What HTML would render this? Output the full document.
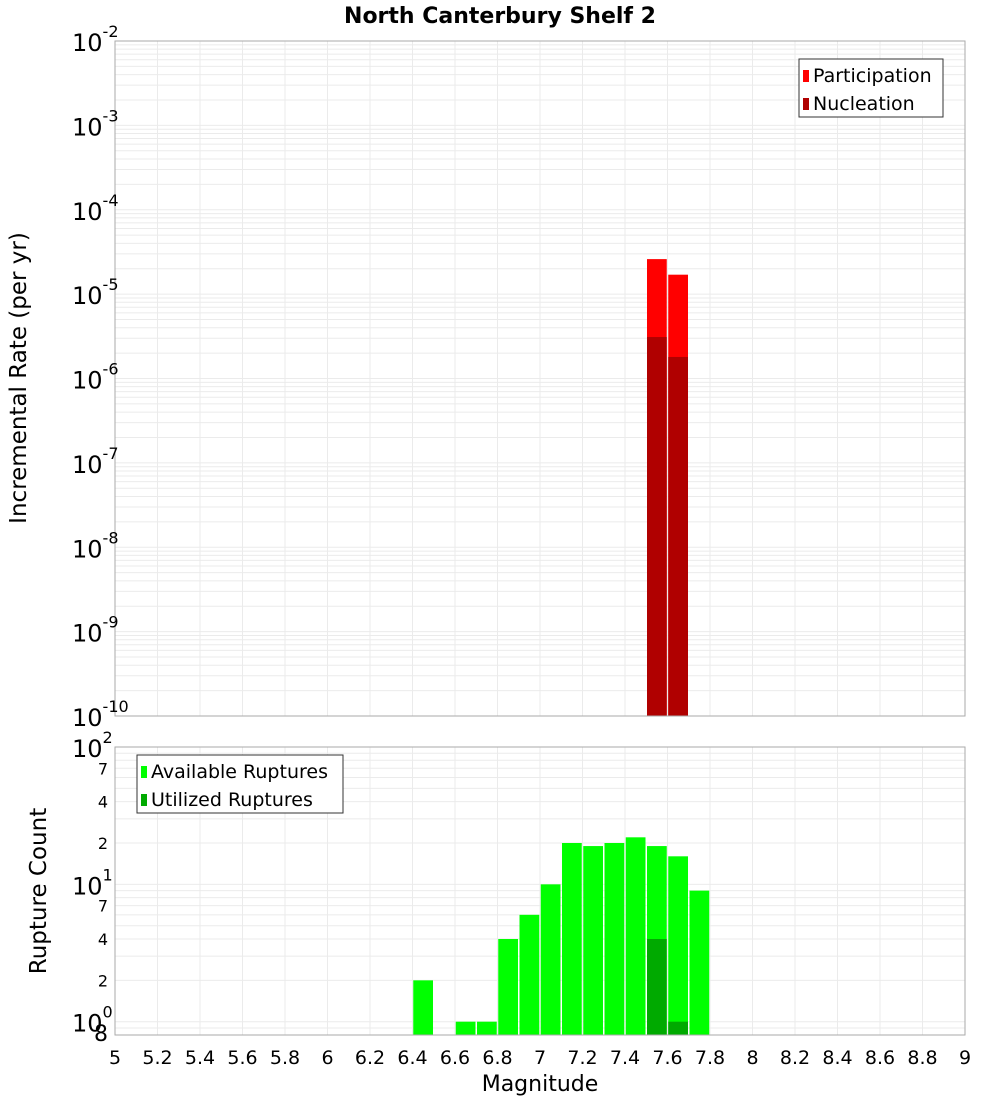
<!DOCTYPE html>
<html><head><meta charset="utf-8"><style>body{margin:0;background:#fff}svg{display:block;font-family:"DejaVu Sans","Liberation Sans",sans-serif}</style></head>
<body>
<svg id="c" width="1000" height="1100"></svg>
<script>
const binCenters=[7.55,7.65];
const participation=[2.6e-5,1.7e-5];
const nucleation=[3.1e-6,1.8e-6];
const countBins=[6.45,6.65,6.75,6.85,6.95,7.05,7.15,7.25,7.35,7.45,7.55,7.65,7.75];
const available=[2,1,1,4,6,10,20,19,20,22,19,16,9];
const utilBins=[7.55,7.65];
const utilized=[4,1];
const xTicks=[5,5.2,5.4,5.6,5.8,6,6.2,6.4,6.6,6.8,7,7.2,7.4,7.6,7.8,8,8.2,8.4,8.6,8.8,9];
const topExp=[-2,-3,-4,-5,-6,-7,-8,-9,-10];

const svg=document.getElementById('c');const NS='http://www.w3.org/2000/svg';
function el(t,a,p){const e=document.createElementNS(NS,t);for(const k in a)e.setAttribute(k,a[k]);(p||svg).appendChild(e);return e;}
const L=115,R=965;
const X=v=>L+(v-5)/4*(R-L);
const T0=41,T1=716;const YT=v=>T0+(-2-Math.log10(v))/8*(T1-T0);
const B0=747,B1=1035;const YB=v=>B0+(2-Math.log10(v))/(2-Math.log10(0.8))*(B1-B0);
const bw=(X(5.1)-X(5))-1.5;
el('text',{x:500,y:23,'text-anchor':'middle','font-size':22,'font-weight':'bold'}).textContent='North Canterbury Shelf 2';
const gt=el('g',{});
const gb=el('g',{});
xTicks.forEach(t=>{el('line',{x1:X(t),x2:X(t),y1:T0,y2:T1,stroke:'#ebebeb'},gt);el('line',{x1:X(t),x2:X(t),y1:B0,y2:B1,stroke:'#ebebeb'},gb);});
for(let e=-10;e<-2;e++)for(let m=1;m<10;m++){const y=YT(m*Math.pow(10,e));el('line',{x1:L,x2:R,y1:y,y2:y,stroke:'#ebebeb'},gt);}
for(let e=-1;e<2;e++)for(let m=1;m<10;m++){const v=m*Math.pow(10,e);if(v<0.8)continue;const y=YB(v);el('line',{x1:L,x2:R,y1:y,y2:y,stroke:'#ebebeb'},gb);}
// top bars
binCenters.forEach((c,i)=>{const r=el('rect',{x:X(c)-bw/2,y:YT(participation[i]),width:bw,height:T1-YT(participation[i]),fill:'#ff0000'});});
binCenters.forEach((c,i)=>{const r=el('rect',{x:X(c)-bw/2,y:YT(nucleation[i]),width:bw,height:T1-YT(nucleation[i]),fill:'#b00000'});});
countBins.forEach((c,i)=>{const r=el('rect',{x:X(c)-bw/2,y:YB(available[i]),width:bw,height:B1-YB(available[i]),fill:'#00ff00'});});
utilBins.forEach((c,i)=>{const r=el('rect',{x:X(c)-bw/2,y:YB(utilized[i]),width:bw,height:B1-YB(utilized[i]),fill:'#00aa00'});});
el('rect',{x:L,y:T0,width:R-L,height:T1-T0,fill:'none',stroke:'#aaa',});
el('rect',{x:L,y:B0,width:R-L,height:B1-B0,fill:'none',stroke:'#aaa',});
// top y labels
topExp.forEach(e=>{const y=YT(Math.pow(10,e));const t=el('text',{x:72,y:y+10,'font-size':24});t.textContent='10';const s=el('tspan',{dy:-14,'font-size':16},t);s.textContent=String(e);});
// bottom y labels
[[2,'2'],[1,'1'],[0,'0']].forEach(([e,s])=>{const y=YB(Math.pow(10,e));const t=el('text',{x:72,y:y+10,'font-size':24});t.textContent='10';const sp=el('tspan',{dy:-14,'font-size':16},t);sp.textContent=s;});
[7,4,2,70,40,20].forEach(v=>{const t=el('text',{x:108,y:YB(v)+6,'font-size':16,'text-anchor':'end'});t.textContent=String(v).charAt(0);});
{const t=el('text',{x:108,y:YB(0.8)+6,'font-size':22,'text-anchor':'end'});t.textContent='8';}
xTicks.forEach(v=>{const t=el('text',{x:X(v),y:1064,'font-size':19,'text-anchor':'middle'});t.textContent=String(v);});
el('text',{x:540,y:1091,'font-size':22,'text-anchor':'middle',}).textContent='Magnitude';
el('text',{x:0,y:0,'font-size':23,'text-anchor':'middle',transform:'translate(26,378) rotate(-90)',}).textContent='Incremental Rate (per yr)';
el('text',{x:0,y:0,'font-size':23,'text-anchor':'middle',transform:'translate(46,891) rotate(-90)',}).textContent='Rupture Count';
// legends
function legend(x,y,w,items,name){const g=el('g',{});el('rect',{x:x,y:y,width:w,height:58,fill:'#fff',stroke:'#333'},g);items.forEach(([c,l],i)=>{el('rect',{x:x+4,y:y+11+i*28,width:6,height:12,fill:c},g);el('text',{x:x+14,y:y+23+i*28,'font-size':19},g).textContent=l;});}
legend(799,59,144,[['#ff0000','Participation'],['#b00000','Nucleation']],'top-legend');
legend(137,755,206,[['#00ff00','Available Ruptures'],['#00aa00','Utilized Ruptures']],'bottom-legend');
</script>
</body></html>
